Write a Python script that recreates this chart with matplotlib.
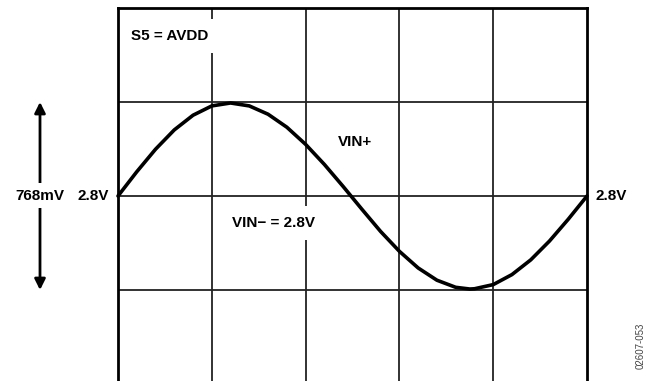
"""Scope capture: VIN+ swing about 2.8 V with S5 = AVDD."""

import matplotlib
matplotlib.use("Agg")
import matplotlib.pyplot as plt

# time in scope divisions, VIN+ in volts (384 mV/div around 2.8 V)
t_div = [0.0, 0.2, 0.4, 0.6, 0.8, 1.0, 1.2, 1.4, 1.6, 1.8, 2.0, 2.2, 2.4,
         2.6, 2.8, 3.0, 3.2, 3.4, 3.6, 3.75, 3.8, 4.0, 4.2, 4.4, 4.6, 4.8,
         5.0]
vin_plus = [2.800, 2.899, 2.991, 3.070, 3.130, 3.168, 3.180, 3.168, 3.134,
            3.081, 3.011, 2.929, 2.839, 2.746, 2.655, 2.574, 2.506, 2.456,
            2.427, 2.420, 2.421, 2.438, 2.479, 2.539, 2.616, 2.705, 2.800]

v_mid = 2.8
v_div = 0.384
n_xdiv = 5
n_ydiv = 4

plt.rcParams["font.family"] = ["Liberation Sans", "DejaVu Sans"]

W, H = 647, 381
fig = plt.figure(figsize=(W / 100, H / 100), dpi=100)
# the graticule runs slightly past the bottom edge
ax = fig.add_axes([118 / W, (H - 384) / H, 469 / W, 376 / H])
ax.set_xlim(0, n_xdiv)
ax.set_ylim(v_mid - 2 * v_div, v_mid + 2 * v_div)

for i in range(1, n_xdiv):
    ax.axvline(i, color="#222222", lw=1.3, zorder=1)
for j in range(1, n_ydiv):
    ax.axhline(v_mid + (j - 2) * v_div, color="#222222", lw=1.3, zorder=1)
for side in ax.spines.values():
    side.set_linewidth(2.0)
ax.set_xticks([])
ax.set_yticks([])

ax.plot(t_div, vin_plus, color="black", lw=2.6, zorder=3,
        solid_capstyle="round", solid_joinstyle="round", clip_on=False)

box = dict(facecolor="white", edgecolor="none", pad=7)
bold = dict(fontweight="bold", fontsize=11, color="black")
ax.text(0.14, v_mid + 1.7 * v_div, "S5 = AVDD", ha="left", va="center",
        bbox=box, zorder=4, **bold)
ax.text(2.53, v_mid + 0.57 * v_div, "VIN+", ha="center", va="center",
        zorder=4, **bold)
ax.text(1.66, v_mid - 0.29 * v_div, "VIN\u2212 = 2.8V", ha="center",
        va="center", bbox=box, zorder=4, **bold)

# level markers either side of the graticule
ax.annotate("2.8V", xy=(0, v_mid), xytext=(-9, 0), textcoords="offset pixels",
            ha="right", va="center", annotation_clip=False, **bold)
ax.annotate("2.8V", xy=(n_xdiv, v_mid), xytext=(9, 0),
            textcoords="offset pixels", ha="left", va="center",
            annotation_clip=False, **bold)

# peak-to-peak span arrow
ax.annotate("", xy=(40, v_mid + v_div), xytext=(40, v_mid - v_div),
            xycoords=("figure pixels", "data"),
            textcoords=("figure pixels", "data"),
            arrowprops=dict(arrowstyle="<|-|>", color="black", lw=2,
                            mutation_scale=16, shrinkA=0, shrinkB=0))
ax.annotate("768mV", xy=(40, v_mid), xycoords=("figure pixels", "data"),
            ha="center", va="center", annotation_clip=False,
            bbox=dict(facecolor="white", edgecolor="none", pad=4), **bold)

fig.text(641 / W, 1 - 346 / H, "02607-053", rotation=90, ha="center",
         va="center", fontsize=7, color="#444444")

fig.savefig("out.png", dpi=100)
